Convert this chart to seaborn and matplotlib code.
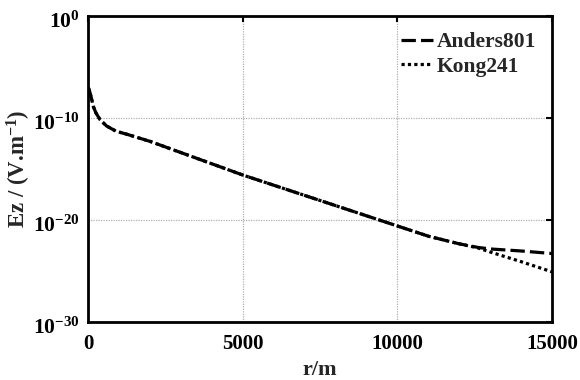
import numpy as np
import pandas as pd
import matplotlib
matplotlib.use("Agg")
import matplotlib.pyplot as plt
import matplotlib.transforms as mtransforms
import seaborn as sns

# Distance from source (m)
r_anders = [0, 40, 100, 170, 250, 390, 600, 900, 1250, 2000, 3000, 4000, 5000,
            6000, 7000, 8000, 9000, 10000, 11000, 12000, 12600, 13000, 14000, 15000]
r_kong = [0, 40, 100, 170, 250, 390, 600, 900, 1250, 2000, 3000, 4000, 5000,
          6000, 7000, 8000, 9000, 10000, 11000, 12000, 12600, 13000, 14000, 15000]

# log10 of Ez (V/m)
log_ez_anders = [-7.0, -7.3, -8.0, -8.9, -9.5, -10.2, -10.8, -11.3, -11.6, -12.3,
                 -13.4, -14.5, -15.6, -16.6, -17.6, -18.6, -19.6, -20.6, -21.6,
                 -22.35, -22.7, -22.85, -23.05, -23.3]
log_ez_kong = [-7.0, -7.3, -8.0, -8.9, -9.5, -10.2, -10.8, -11.3, -11.6, -12.3,
               -13.4, -14.5, -15.6, -16.6, -17.6, -18.6, -19.6, -20.6, -21.6,
               -22.35, -22.75, -23.15, -24.1, -25.1]

series_names = ["Anders801", "Kong241"]
x_ticks = [0, 5000, 10000, 15000]
y_ticks = [1e0, 1e-10, 1e-20, 1e-30]
y_tick_labels = [r"$\mathbf{10^{0}}$", r"$\mathbf{10^{-10}}$",
                 r"$\mathbf{10^{-20}}$", r"$\mathbf{10^{-30}}$"]

df = pd.concat([
    pd.DataFrame({"r": r_anders, "Ez": 10.0 ** np.array(log_ez_anders), "model": series_names[0]}),
    pd.DataFrame({"r": r_kong, "Ez": 10.0 ** np.array(log_ez_kong), "model": series_names[1]}),
])

sns.set_style("white")
plt.rcParams["font.family"] = ["Liberation Serif", "DejaVu Serif"]
plt.rcParams["font.weight"] = "bold"
plt.rcParams["mathtext.fontset"] = "custom"
plt.rcParams["mathtext.rm"] = "Liberation Serif:bold"
plt.rcParams["mathtext.bf"] = "Liberation Serif:bold"
plt.rcParams["mathtext.it"] = "Liberation Serif:bold:italic"

fig = plt.figure(figsize=(5.8, 3.8), dpi=100)
ax = fig.add_axes([0.152, 0.153, 0.800, 0.805])

sns.lineplot(data=df, x="r", y="Ez", hue="model", style="model",
             palette=["black", "black"], dashes=[(4.5, 1.6), (1.0, 1.0)],
             linewidth=2.3, ax=ax, legend=True, estimator=None, sort=False)

ax.set_yscale("log")
ax.set_xlim(0, 15000)
ax.set_ylim(1e-30, 1e0)
ax.set_xticks(x_ticks)
ax.set_xticklabels([str(t) for t in x_ticks], fontsize=15, fontweight="bold")
ax.set_yticks(y_ticks)
ax.set_yticklabels(y_tick_labels, fontsize=15.5)
ax.yaxis.set_minor_locator(matplotlib.ticker.NullLocator())
ax.tick_params(axis="x", which="major", pad=9)
ax.tick_params(axis="y", which="major", pad=6)
ax.tick_params(axis="both", which="major", direction="in", length=4, width=1.5,
               top=True, right=True, colors="black")

# drop the exponent labels slightly so the base sits on the tick
shift = mtransforms.ScaledTranslation(0, -4 / 100, fig.dpi_scale_trans)
for lbl in ax.get_yticklabels():
    lbl.set_transform(lbl.get_transform() + shift)

ax.grid(True, which="major", color="#b0b0b0", linestyle=(0, (1, 1)), linewidth=0.9)
for s in ax.spines.values():
    s.set_linewidth(2.0)
    s.set_color("black")

ax.set_xlabel("r/m", fontsize=16, fontweight="bold", labelpad=4)
ax.set_ylabel(r"Ez / (V.m$^{\mathbf{-1}}$)", fontsize=16.5, fontweight="bold", labelpad=0)

leg = ax.legend(loc="upper right", frameon=False, fontsize=15.5, handlelength=1.5,
                handletextpad=0.15, borderaxespad=0.35, labelspacing=0.2,
                borderpad=0.4)
for t in leg.get_texts():
    t.set_fontweight("bold")

fig.savefig("out.png", dpi=100)
